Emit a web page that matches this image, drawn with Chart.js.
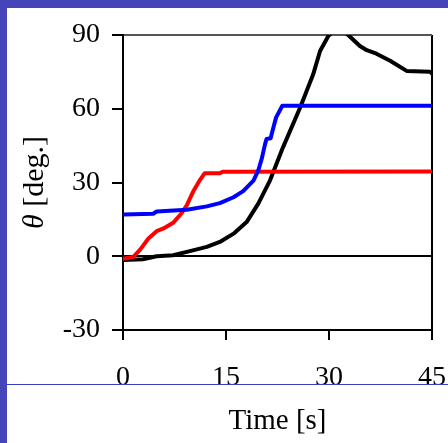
<!DOCTYPE html>
<html>
<head>
<meta charset="utf-8">
<script src="https://cdn.jsdelivr.net/npm/chart.js@4/dist/chart.umd.min.js"></script>
<style>
  html, body { margin: 0; padding: 0; }
  body {
    width: 448px; height: 443px; overflow: hidden; position: relative;
    background: #4545b9;
  }
  #panel {
    position: absolute; left: 7px; top: 8px; width: 441px; height: 435px;
    background: #fff;
  }
  #rule {
    position: absolute; left: 7px; top: 384px; width: 441px; height: 1px;
    background: #3c3cc0;
  }
</style>
</head>
<body>
<div id="panel"><canvas id="chart" width="441" height="435"></canvas></div>
<div id="rule"></div>
<script>
/* ---------- data ---------- */
const xTicks = [0, 15, 30, 45];
const yTicks = [-30, 0, 30, 60, 90];

const blueX = [0, 4.4, 4.9, 9.3, 12.2, 14.1, 16.1, 17.5, 19.0, 19.7, 20.2, 20.7, 20.9, 21.5, 21.9, 22.3, 23.2, 45];
const blueY = [17, 17.3, 18.2, 18.9, 20.3, 21.6, 24.0, 26.5, 30.8, 34.9, 39.6, 45.7, 47.7, 48.0, 52.4, 56.5, 61.2, 61.2];

const redX = [0, 1.5, 2.5, 3.7, 4.9, 5.9, 7.3, 8.5, 9.3, 10.2, 11.2, 11.9, 14.1, 14.5, 45];
const redY = [-1, -0.3, 2.7, 7.2, 10.2, 11.3, 13.6, 17.4, 20.8, 26.2, 31.0, 33.8, 33.8, 34.4, 34.5];

const blackX = [0, 2.9, 4.9, 7.3, 9.3, 12.2, 14.1, 16.1, 18.0, 19.7, 21.4, 23.3, 25.8, 27.7, 28.7, 29.9, 31.3, 32.8, 34.5, 35.5, 36.9, 38.9, 41.3, 44.7, 45];
const blackY = [-1.5, -1.2, 0, 0.4, 1.8, 3.8, 5.8, 9.2, 13.9, 21.4, 30.8, 44.3, 60.5, 74.0, 83.5, 89.6, 93, 90, 85.5, 83.8, 82.4, 79.5, 75.4, 75.1, 74.3];

const toPoints = (xs, ys) => xs.map((x, i) => ({ x: x, y: ys[i] }));

const FONT = "'Liberation Serif', 'Times New Roman', serif";

/* ---------- y title with italic theta ---------- */
const yTitle = {
    id: "yTitle",
    afterDraw(chart) {
        const ctx = chart.ctx;
        const a = chart.chartArea;
        const part1 = "\u03B8";
        const part2 = " [deg.]";
        ctx.save();
        ctx.translate(28, (a.top + a.bottom) / 2);
        ctx.rotate(-Math.PI / 2);
        ctx.fillStyle = "#000";
        ctx.textBaseline = "middle";
        ctx.font = "italic 30px " + FONT;
        const w1 = ctx.measureText(part1).width;
        ctx.font = "30px " + FONT;
        const w2 = ctx.measureText(part2).width;
        let x = -(w1 + w2) / 2;
        ctx.font = "italic 30px " + FONT;
        ctx.fillText(part1, x, 0);
        ctx.font = "30px " + FONT;
        ctx.fillText(part2, x + w1, 0);
        ctx.restore();
    }
};

new Chart(document.getElementById("chart"), {
    type: "line",
    data: {
        datasets: [
            { label: "blue", data: toPoints(blueX, blueY), borderColor: "#0000ff", borderWidth: 4 },
            { label: "red", data: toPoints(redX, redY), borderColor: "#ff0000", borderWidth: 4 },
            { label: "black", data: toPoints(blackX, blackY), borderColor: "#000000", borderWidth: 4 }
        ]
    },
    options: {
        responsive: false,
        animation: false,
        events: [],
        layout: { padding: { top: 27, right: 16, left: 0, bottom: 0 } },
        elements: { point: { radius: 0 }, line: { tension: 0, borderJoinStyle: "round", borderCapStyle: "round" } },
        plugins: { legend: { display: false }, tooltip: { enabled: false } },
        scales: {
            x: {
                type: "linear",
                min: 0, max: 45,
                afterBuildTicks: s => { s.ticks = xTicks.map(v => ({ value: v })); },
                afterFit: s => { s.height = 113; s.paddingLeft = 0; s.paddingRight = 0; },
                border: { display: true, color: "#000", width: 2 },
                grid: {
                    color: c => c.tick && c.tick.value === 45 ? "#000" : "rgba(0,0,0,0)",
                    tickColor: "#000",
                    lineWidth: 2,
                    tickLength: 10
                },
                ticks: { color: "#000", font: { family: FONT, size: 28 }, padding: 21, maxRotation: 0 },
                title: {
                    display: true, text: "Time [s]", color: "#000",
                    font: { family: FONT, size: 29 }, padding: { top: 0, bottom: 4 }
                }
            },
            y: {
                min: -30, max: 90,
                afterBuildTicks: s => { s.ticks = yTicks.map(v => ({ value: v })); },
                afterFit: s => { s.width = 116; s.paddingTop = 0; s.paddingBottom = 0; },
                border: { display: true, color: "#000", width: 2 },
                grid: {
                    color: c => {
                        if (!c.tick) return "rgba(0,0,0,0)";
                        if (c.tick.value === 0) return "#000";
                        if (c.tick.value === 90) return "#555";
                        return "rgba(0,0,0,0)";
                    },
                    tickColor: "#000",
                    lineWidth: 2,
                    tickLength: 11
                },
                ticks: { color: "#000", font: { family: FONT, size: 28 }, padding: 12 }
            }
        }
    },
    plugins: [yTitle]
});
</script>
</body>
</html>
